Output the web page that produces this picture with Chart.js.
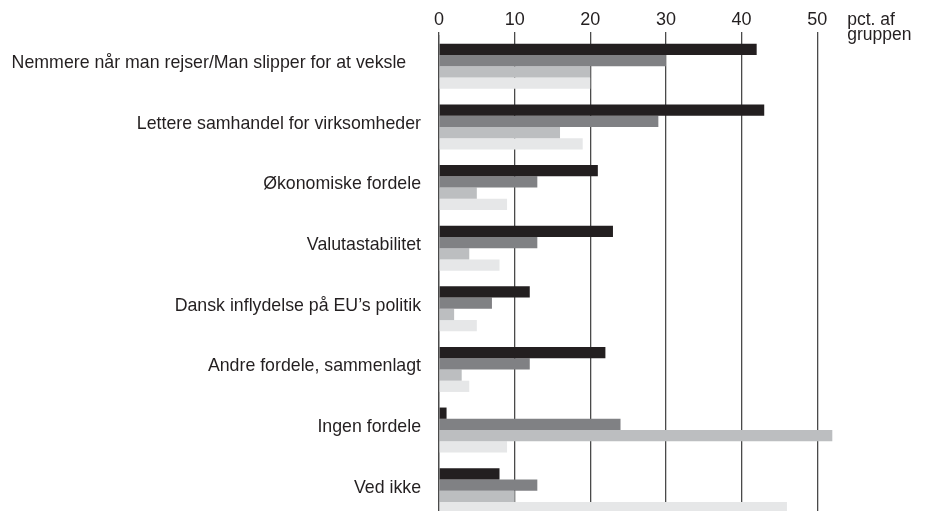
<!DOCTYPE html>
<html>
<head>
<meta charset="utf-8">
<script src="https://cdn.jsdelivr.net/npm/chart.js@4.4.1/dist/chart.umd.min.js"></script>
<style>
html,body{margin:0;padding:0;background:#fff;overflow:hidden;width:925px;height:511px;}
canvas{display:block;}
</style>
</head>
<body>
<canvas id="c" width="925" height="521"></canvas>
<script>
const categories = [
  "Nemmere når man rejser/Man slipper for at veksle   ",
  "Lettere samhandel for virksomheder",
  "Økonomiske fordele",
  "Valutastabilitet",
  "Dansk inflydelse på EU’s politik",
  "Andre fordele, sammenlagt",
  "Ingen fordele",
  "Ved ikke"
];
const series1 = [42, 43, 21, 23, 12, 22, 1, 8];
const series2 = [30, 29, 13, 13, 7, 12, 24, 13];
const series3 = [20, 16, 5, 4, 2, 3, 52, 10];
const series4 = [20, 19, 9, 8, 5, 4, 9, 46];
const tickValues = [0, 10, 20, 30, 40, 50];
const unitLabel = ["pct. af", "gruppen"];

const FONT = "'Liberation Sans', Arial, sans-serif";
const GRID = '#4a4a4a';

const unitPlugin = {
  id: 'unitLabel',
  afterDraw(chart) {
    const x = chart.scales.x;
    const ctx = chart.ctx;
    ctx.save();
    ctx.font = '17.5px ' + FONT;
    ctx.fillStyle = '#231f20';
    ctx.textAlign = 'left';
    ctx.textBaseline = 'alphabetic';
    const px = x.getPixelForValue(tickValues[tickValues.length - 1]) + 30;
    ctx.fillText(unitLabel[0], px, 25);
    ctx.fillText(unitLabel[1], px, 40);
    ctx.restore();
  }
};

new Chart(document.getElementById('c'), {
  type: 'bar',
  data: {
    labels: categories,
    datasets: [
      { label: 'Serie 1', data: series1, backgroundColor: '#231f20' },
      { label: 'Serie 2', data: series2, backgroundColor: '#808184' },
      { label: 'Serie 3', data: series3, backgroundColor: '#bcbec0' },
      { label: 'Serie 4', data: series4, backgroundColor: '#e6e7e8' }
    ]
  },
  options: {
    indexAxis: 'y',
    responsive: false,
    animation: false,
    devicePixelRatio: 1,
    datasets: { bar: { barPercentage: 1, categoryPercentage: 0.743, borderWidth: 0 } },
    layout: { padding: { left: 0, right: 70, top: 0, bottom: 0 } },
    plugins: { legend: { display: false }, tooltip: { enabled: false }, title: { display: false } },
    scales: {
      x: {
        position: 'top',
        min: 0,
        max: 55,
        afterBuildTicks(scale) { scale.ticks = tickValues.map(v => ({ value: v })); },
        afterFit(scale) { scale.height = 36; },
        grid: { color: GRID, lineWidth: 1.3, drawTicks: true, tickLength: 4, tickColor: GRID },
        border: { display: false },
        ticks: { color: '#231f20', font: { family: FONT, size: 18 }, padding: 1, maxRotation: 0 }
      },
      y: {
        afterFit(scale) { scale.width = 439; scale.paddingTop = 0; scale.paddingBottom = 0; },
        grid: { display: false, drawTicks: false },
        border: { display: true, color: GRID, width: 1.3 },
        ticks: { color: '#231f20', font: { family: FONT, size: 17.75 }, padding: 18, labelOffset: -3, autoSkip: false }
      }
    }
  },
  plugins: [unitPlugin]
});
</script>
</body>
</html>
